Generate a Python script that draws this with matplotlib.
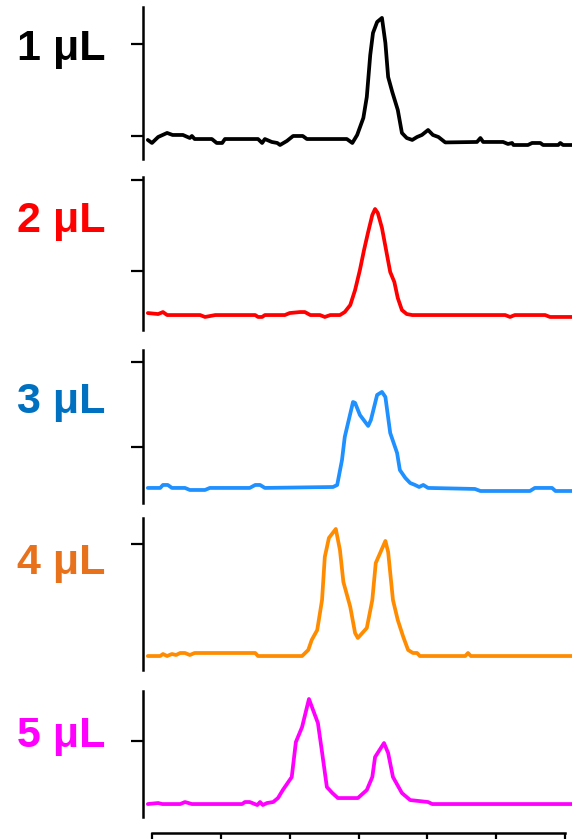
import matplotlib
matplotlib.use('Agg')
import matplotlib.pyplot as plt

plt.rcParams['font.family'] = ['Liberation Sans', 'DejaVu Sans']

# retention time (s) / signal for each injection volume
t1 = [-0.6, 0.0, 0.9, 2.2, 3.0, 4.5, 5.5, 5.8, 6.2, 8.7, 9.4, 10.2, 10.6, 15.4, 16.0, 16.4,
      17.4, 18.2, 18.6, 19.6, 20.5, 21.9, 22.5, 28.3, 29.1, 29.8, 30.7, 31.2, 31.7, 32.1,
      32.7, 33.4, 33.9, 34.3, 34.9, 35.7, 36.3, 37.0, 37.8, 38.5, 39.2, 40.1, 40.8, 41.6,
      42.6, 47.2, 47.7, 48.1, 51.0, 51.7, 52.3, 52.5, 54.6, 55.2, 56.4, 56.8, 59.0, 59.3,
      59.7, 61.0]
s1 = [-0.43, -0.76, -0.11, 0.33, 0.11, 0.11, -0.22, 0.0, -0.33, -0.33, -0.76, -0.76, -0.33,
      -0.33, -0.76, -0.33, -0.65, -0.76, -0.98, -0.54, 0.0, 0.0, -0.33, -0.33, -0.76, 0.11,
      1.96, 4.24, 8.8, 11.2, 12.39, 12.83, 10.11, 6.41, 4.78, 2.83, 0.33, -0.22, -0.43,
      -0.11, 0.11, 0.65, 0.11, -0.11, -0.7, -0.65, -0.22, -0.65, -0.65, -0.87, -0.76, -0.98,
      -0.98, -0.76, -0.76, -0.98, -0.98, -0.76, -0.98, -0.98]

t2 = [-0.6, 0.9, 1.6, 2.2, 7.0, 7.7, 9.2, 15.0, 15.4, 16.0, 16.4, 19.3, 20.0, 21.5, 22.2,
      23.0, 24.4, 25.1, 25.9, 27.3, 28.0, 28.8, 29.5, 30.2, 30.8, 31.4, 32.0, 32.4, 32.8,
      33.4, 34.0, 34.6, 35.2, 35.7, 36.3, 37.0, 37.8, 51.3, 52.0, 52.7, 57.1, 57.8, 61.0]
s2 = [0.38, 0.27, 0.49, 0.16, 0.16, -0.05, 0.16, 0.16, -0.05, -0.05, 0.16, 0.16, 0.38, 0.49,
      0.49, 0.16, 0.16, -0.05, 0.16, 0.16, 0.49, 1.26, 2.91, 5.11, 7.31, 9.29, 11.15, 11.81,
      11.37, 9.73, 7.31, 4.89, 3.79, 2.03, 0.71, 0.27, 0.16, 0.16, -0.05, 0.16, 0.16, -0.05,
      -0.05]

t3 = [-0.6, 1.2, 1.6, 2.3, 2.9, 4.8, 5.5, 7.7, 8.4, 14.2, 15.0, 15.7, 16.4, 26.3, 26.9,
      27.6, 28.0, 29.2, 29.5, 30.2, 31.4, 31.8, 32.7, 33.4, 33.9, 34.6, 35.6, 36.0, 36.8,
      37.5, 38.2, 38.8, 39.4, 40.1, 46.9, 47.7, 54.9, 55.6, 58.1, 58.6, 61.0]
s3 = [0.18, 0.18, 0.53, 0.53, 0.18, 0.18, -0.06, -0.06, 0.18, 0.18, 0.53, 0.53, 0.18, 0.29,
      0.53, 3.47, 6.18, 10.29, 10.18, 8.76, 7.47, 8.18, 11.12, 11.47, 10.88, 6.65, 4.29,
      2.29, 1.35, 0.76, 0.53, 0.29, 0.53, 0.18, 0.06, -0.18, -0.18, 0.18, 0.18, -0.18, -0.18]

t4 = [-0.6, 1.2, 1.6, 2.2, 2.9, 3.5, 4.1, 4.8, 5.5, 6.2, 15.0, 15.4, 21.8, 22.7, 23.2, 24.0,
      24.7, 25.1, 25.7, 26.7, 27.3, 27.8, 28.8, 29.5, 29.9, 31.2, 32.0, 32.5, 33.9, 34.3,
      35.0, 35.7, 36.5, 37.2, 37.9, 38.5, 38.9, 45.5, 45.9, 46.3, 61.0]
s4 = [0.0, 0.0, 0.18, 0.0, 0.18, 0.09, 0.27, 0.27, 0.09, 0.27, 0.27, 0.0, 0.0, 0.54, 1.43,
      2.32, 5.0, 8.84, 10.54, 11.34, 9.46, 6.61, 4.38, 2.05, 1.61, 2.5, 5.0, 8.3, 10.27, 9.29,
      5.0, 3.21, 1.7, 0.54, 0.27, 0.27, 0.0, 0.0, 0.27, 0.0, 0.0]

t5 = [-0.6, 0.9, 1.5, 4.1, 4.8, 5.8, 13.1, 13.5, 14.2, 15.3, 15.7, 16.1, 16.7, 17.6, 18.3,
      19.0, 20.3, 20.9, 21.8, 22.8, 24.1, 24.7, 25.4, 26.2, 27.0, 29.9, 31.2, 32.0, 32.4,
      33.7, 34.3, 35.0, 36.3, 37.5, 40.1, 40.7, 61.0]
s5 = [0.0, 0.16, 0.0, 0.0, 0.32, 0.0, 0.0, 0.32, 0.32, -0.16, 0.32, -0.16, 0.16, 0.32, 0.95,
      2.22, 4.29, 9.84, 12.22, 16.67, 12.86, 8.25, 2.7, 1.75, 0.95, 0.95, 2.22, 4.29, 7.46,
      9.68, 8.1, 4.29, 1.75, 0.63, 0.32, 0.0, 0.0]

labels = ['1 μL', '2 μL', '3 μL', '4 μL', '5 μL']
line_colors = ['black', '#FF0000', '#1E90FF', '#FF8C00', '#FF00FF']
label_colors = ['black', '#FF0000', '#0070C0', '#E8711C', '#FF00FF']
yticks = [[0, 10], [5, 15], [5, 15], [10], [10]]
ylims = [(-2.5, 14.02), (-1.48, 15.33), (-1.59, 16.41), (-1.25, 12.32), (-2.06, 17.94)]

# panel boxes (left, bottom, width, height) in figure fraction
boxes = [(0.25, 0.8105, 0.75, 0.1812),
         (0.25, 0.6067, 0.75, 0.1824),
         (0.25, 0.4005, 0.75, 0.1824),
         (0.25, 0.2014, 0.75, 0.1812),
         (0.25, 0.0262, 0.75, 0.1502)]
label_y = [1 - 60/839, 1 - 232/839, 1 - 413/839, 1 - 574/839, 1 - 747/839]

fig = plt.figure(figsize=(5.72, 8.39), dpi=100)
series = [(t1, s1), (t2, s2), (t3, s3), (t4, s4), (t5, s5)]

for i, (t, s) in enumerate(series):
    ax = fig.add_axes(boxes[i])
    ax.plot(t, s, color=line_colors[i], linewidth=2.7, solid_joinstyle='round',
            solid_capstyle='round')
    ax.set_xlim(-1.3, 61.0)
    ax.set_ylim(*ylims[i])
    ax.set_yticks(yticks[i])
    ax.set_yticklabels([])
    ax.tick_params(axis='y', direction='out', length=8.5, width=1.6)
    for side in ['top', 'right']:
        ax.spines[side].set_visible(False)
    ax.spines['left'].set_linewidth(1.8)
    if i < 4:
        ax.spines['bottom'].set_visible(False)
        ax.set_xticks([])
    else:
        ax.spines['bottom'].set_position(('outward', 11.5))
        ax.spines['bottom'].set_bounds(0, 60)
        ax.spines['bottom'].set_linewidth(1.8)
        ax.set_xticks(range(0, 61, 10))
        ax.set_xticklabels([])
        ax.tick_params(axis='x', direction='out', length=8, width=1.6)
    fig.text(17/572, label_y[i], labels[i], color=label_colors[i], fontsize=31,
             fontweight='bold', ha='left', va='baseline')

fig.savefig('out.png', dpi=100)
